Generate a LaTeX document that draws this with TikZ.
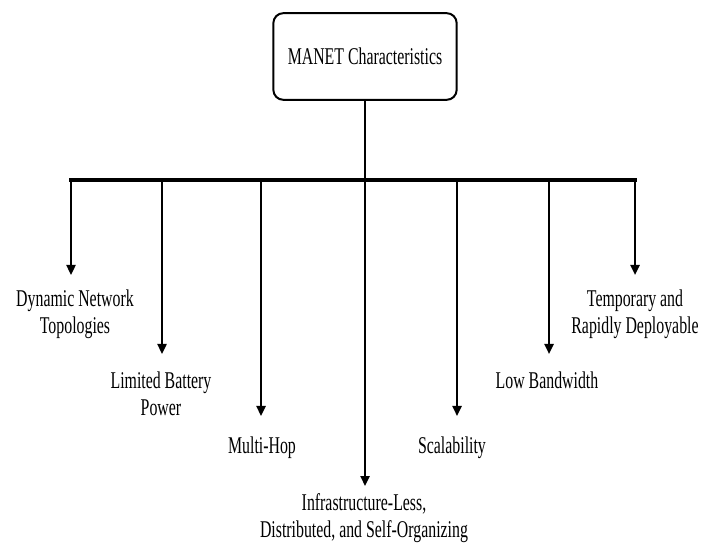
\documentclass[tikz,border=0pt]{standalone}
\usepackage{fontspec}
\setmainfont{Liberation Serif}[FakeStretch=0.66]
\usetikzlibrary{arrows.meta}

\tikzset{
    rootbox/.style={draw, line width=1.7pt, rounded corners=0.3cm, minimum width=5.5cm, minimum height=2.6cm, inner sep=0pt},
    itemtext/.style={align=center, inner sep=0pt, font=\fontsize{20.5}{23}\selectfont},
    bar/.style={line width=2.6pt},
    arr/.style={line width=2pt, -{Triangle[width=0.27cm,length=0.3cm]}}
}

\begin{document}
\begin{tikzpicture}[x=0.03cm, y=-0.03cm]
                    \useasboundingbox (0,0) rectangle (703,545);
                    \node[rootbox, font=\fontsize{20.5}{23}\selectfont] (root) at (365,56.5) {MANET Characteristics};

                    \coordinate (b1) at (71,180);
                    \coordinate (b2) at (162,180);
                    \coordinate (b3) at (261,180);
                    \coordinate (b4) at (365,180);
                    \coordinate (b5) at (457,180);
                    \coordinate (b6) at (549,180);
                    \coordinate (b7) at (635,180);

                    \coordinate (t1) at (71,275);
                    \coordinate (t2) at (162,354);
                    \coordinate (t3) at (261,416);
                    \coordinate (t4) at (365,486);
                    \coordinate (t5) at (457,416);
                    \coordinate (t6) at (549,354);
                    \coordinate (t7) at (635,275);

                    \node[itemtext] (dyn) at (75,314) {Dynamic Network\\Topologies};
                    \node[itemtext] (bat) at (161,394) {Limited Battery\\Power};
                    \node[itemtext] (hop) at (262,448) {Multi-Hop};
                    \node[itemtext] (inf) at (364,518) {Infrastructure-Less,\\Distributed, and Self-Organizing};
                    \node[itemtext] (sca) at (452,448) {Scalability};
                    \node[itemtext] (bw) at (547,380) {Low Bandwidth};
                    \node[itemtext] (tmp) at (635,314) {Temporary and\\Rapidly Deployable};

                    \draw[line width=2pt] (root.south) -- (b4);
                    \draw[bar, line cap=rect] (b1) -- (b7);
                    \draw[arr] (b1) -- (t1);
                    \draw[arr] (b2) -- (t2);
                    \draw[arr] (b3) -- (t3);
                    \draw[arr] (b4) -- (t4);
                    \draw[arr] (b5) -- (t5);
                    \draw[arr] (b6) -- (t6);
                    \draw[arr] (b7) -- (t7);
                \end{tikzpicture}
\end{document}
